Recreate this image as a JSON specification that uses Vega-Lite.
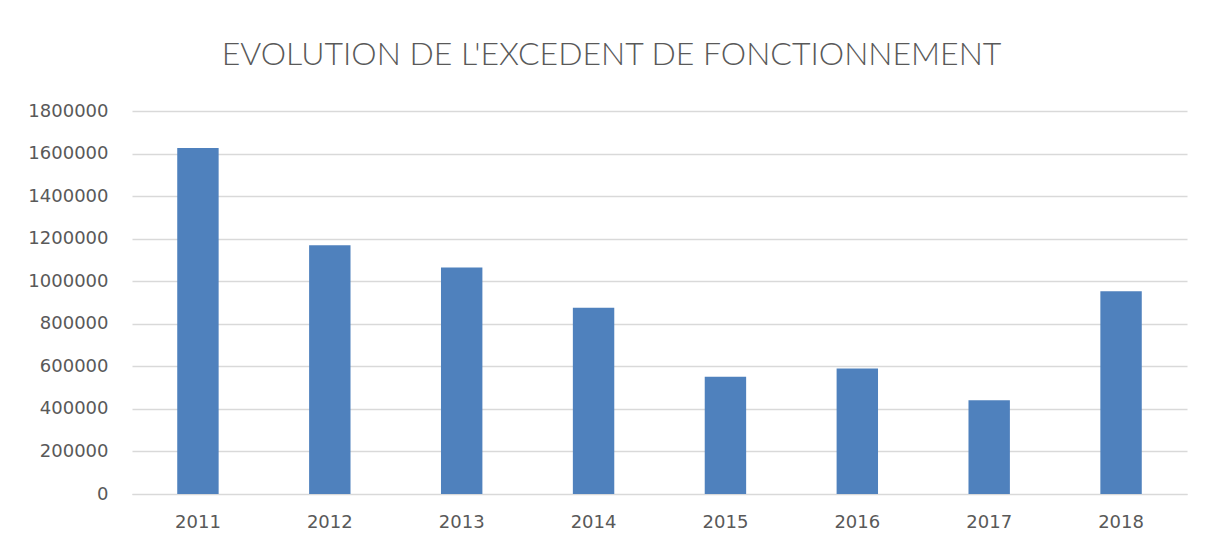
{
  "$schema": "https://vega.github.io/schema/vega-lite/v6.json",
  "autosize": "none",
  "width": 1055,
  "height": 383,
  "padding": {"left": 132, "top": 111, "right": 19, "bottom": 55},
  "background": "white",
  "title": {
    "text": "EVOLUTION DE L'EXCEDENT DE FONCTIONNEMENT",
    "font": "Lato",
    "fontSize": 32,
    "fontWeight": 300,
    "color": "#595959",
    "anchor": "middle",
    "dx": -48,
    "offset": 30
  },
  "data": {
    "values": [
      {"annee": "2011", "excedent": 1626000},
      {"annee": "2012", "excedent": 1169000},
      {"annee": "2013", "excedent": 1064000},
      {"annee": "2014", "excedent": 875000},
      {"annee": "2015", "excedent": 551000},
      {"annee": "2016", "excedent": 590000},
      {"annee": "2017", "excedent": 441000},
      {"annee": "2018", "excedent": 953000}
    ]
  },
  "mark": {"type": "bar", "color": "#4f81bd"},
  "encoding": {
    "x": {
      "field": "annee",
      "type": "nominal",
      "scale": {"paddingInner": 0.686, "paddingOuter": 0.343},
      "axis": {
        "title": null,
        "labelAngle": 0,
        "ticks": false,
        "domain": true,
        "domainColor": "#d9d9d9",
        "labelFont": "DejaVu Sans",
        "labelFontSize": 18,
        "labelColor": "#595959",
        "labelPadding": 19
      }
    },
    "y": {
      "field": "excedent",
      "type": "quantitative",
      "scale": {"domain": [0, 1800000], "nice": false},
      "axis": {
        "title": null,
        "values": [0, 200000, 400000, 600000, 800000, 1000000, 1200000, 1400000, 1600000, 1800000],
        "format": "d",
        "ticks": false,
        "domain": false,
        "grid": true,
        "gridColor": "#d9d9d9",
        "gridWidth": 1.3,
        "labelFont": "DejaVu Sans",
        "labelFontSize": 18,
        "labelColor": "#595959",
        "labelPadding": 24
      }
    }
  },
  "config": {"view": {"stroke": null}}
}
